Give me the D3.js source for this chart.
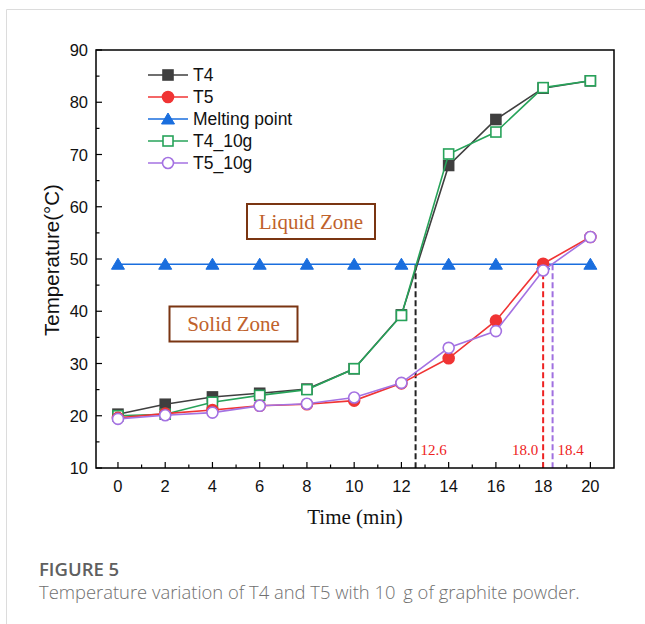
<!doctype html>
<html>
<head>
<meta charset="utf-8">
<script src="https://d3js.org/d3.v7.min.js"></script>
<style>
  body { margin: 0; background: #fff; }
  svg { display: block; }
</style>
</head>
<body>
<svg width="645" height="624"></svg>
<script>
// data
var times = [0, 2, 4, 6, 8, 10, 12, 14, 16, 18, 20];
var t4 = [20.3, 22.2, 23.6, 24.3, 25.1, 29.0, 39.3, 67.9, 76.7, 82.7, 84.1];
var t5 = [19.6, 20.4, 21.1, 21.9, 22.2, 22.9, 26.2, 31.0, 38.2, 49.1, 54.2];
var melting = [49, 49, 49, 49, 49, 49, 49, 49, 49, 49, 49];
var t4_10g = [20.0, 20.3, 22.6, 23.9, 25.0, 29.0, 39.2, 70.1, 74.3, 82.8, 84.1];
var t5_10g = [19.4, 20.1, 20.6, 21.9, 22.3, 23.5, 26.3, 33.0, 36.2, 47.8, 54.2];
var xTicks = [0, 2, 4, 6, 8, 10, 12, 14, 16, 18, 20];
var yTicks = [10, 20, 30, 40, 50, 60, 70, 80, 90];
var crossings = [
  {t: 12.6, color: "#222", label: "12.6", side: "right"},
  {t: 18.0, color: "#ee2222", label: "18.0", side: "left"},
  {t: 18.4, color: "#a070e0", label: "18.4", side: "right"}
];

var series = [
  {name: "T4", values: t4, color: "#3f3f3f", shape: "square", filled: true},
  {name: "T5", values: t5, color: "#f03434", shape: "circle", filled: true},
  {name: "Melting point", values: melting, color: "#1a6ede", shape: "triangle", filled: true},
  {name: "T4_10g", values: t4_10g, color: "#27a35a", shape: "square", filled: false},
  {name: "T5_10g", values: t5_10g, color: "#a472e2", shape: "circle", filled: false}
];

(function() {
var svg = d3.select("svg");

// card outline
svg.append("path")
  .attr("d", "M6.5,624 L6.5,9.5 L645,9.5")
  .attr("fill", "none")
  .attr("stroke", "#dcdcdc")
  .attr("stroke-width", 1);

var pl = 96, pr = 614, pt = 50, pb = 468;

var x = d3.scaleLinear().domain([-0.93, 21.0]).range([pl, pr]);
var y = d3.scaleLinear().domain([10, 90]).range([pb, pt]);

// ticks (inward, with minors)
var g = svg.append("g");
d3.range(0, 21, 1).forEach(function(v) {
  var len = (v % 2 === 0) ? 6 : 3.5;
  g.append("line").attr("x1", x(v)).attr("x2", x(v))
    .attr("y1", pb).attr("y2", pb - len)
    .attr("stroke", "#000").attr("stroke-width", 1.2);
});
d3.range(10, 91, 5).forEach(function(v) {
  var len = (v % 10 === 0) ? 6 : 3.5;
  g.append("line").attr("x1", pl).attr("x2", pl + len)
    .attr("y1", y(v)).attr("y2", y(v))
    .attr("stroke", "#000").attr("stroke-width", 1.2);
});

// tick labels
g.selectAll(".xl").data(xTicks).enter().append("text")
  .attr("x", function(d) { return x(d); })
  .attr("y", 492)
  .attr("text-anchor", "middle")
  .attr("font-family", "Liberation Sans, Arial, sans-serif")
  .attr("font-size", 16.5)
  .attr("fill", "#111")
  .text(function(d) { return d; });

g.selectAll(".yl").data(yTicks).enter().append("text")
  .attr("x", 88)
  .attr("y", function(d) { return y(d) + 6; })
  .attr("text-anchor", "end")
  .attr("font-family", "Liberation Sans, Arial, sans-serif")
  .attr("font-size", 16.5)
  .attr("fill", "#111")
  .text(function(d) { return d; });

// axis titles
svg.append("text")
  .attr("transform", "translate(59,260) rotate(-90)")
  .attr("text-anchor", "middle")
  .attr("font-family", "Liberation Sans, Arial, sans-serif")
  .attr("font-size", 20.5)
  .attr("fill", "#111")
  .text("Temperature(\u00B0C)");

svg.append("text")
  .attr("x", 355).attr("y", 524)
  .attr("text-anchor", "middle")
  .attr("font-family", "Liberation Serif, Times New Roman, serif")
  .attr("font-size", 21)
  .attr("fill", "#111")
  .text("Time (min)");

// zone boxes
function zoneBox(cx, cy, w, h, label) {
  svg.append("rect")
    .attr("x", cx - w / 2).attr("y", cy - h / 2)
    .attr("width", w).attr("height", h)
    .attr("fill", "#fff")
    .attr("stroke", "#7a3512")
    .attr("stroke-width", 2);
  svg.append("text")
    .attr("x", cx).attr("y", cy + 7)
    .attr("text-anchor", "middle")
    .attr("font-family", "Liberation Serif, Times New Roman, serif")
    .attr("font-size", 21)
    .attr("fill", "#c0622c")
    .text(label);
}
zoneBox(311, 221.5, 128, 35, "Liquid Zone");
zoneBox(233.5, 324, 128, 35, "Solid Zone");

// crossing lines
crossings.forEach(function(c) {
  svg.append("line")
    .attr("x1", x(c.t)).attr("x2", x(c.t))
    .attr("y1", y(49)).attr("y2", pb)
    .attr("stroke", c.color)
    .attr("stroke-width", 2)
    .attr("stroke-dasharray", "6,3");
  svg.append("text")
    .attr("x", c.side === "right" ? x(c.t) + 5 : x(c.t) - 5)
    .attr("y", 455)
    .attr("text-anchor", c.side === "right" ? "start" : "end")
    .attr("font-family", "Liberation Serif, Times New Roman, serif")
    .attr("font-size", 15)
    .attr("fill", "#ee2222")
    .text(c.label);
});

// lines and markers
var line = d3.line()
  .x(function(d, i) { return x(times[i]); })
  .y(function(d) { return y(d); });

function drawMarker(sel, s, px, py) {
  var fill = s.filled ? s.color : "#fff";
  if (s.shape === "square") {
    sel.append("rect").attr("x", px - 5).attr("y", py - 5)
      .attr("width", 10).attr("height", 10)
      .attr("fill", fill).attr("stroke", s.color).attr("stroke-width", 1.6);
  } else if (s.shape === "circle") {
    sel.append("circle").attr("cx", px).attr("cy", py).attr("r", 5.5)
      .attr("fill", fill).attr("stroke", s.color).attr("stroke-width", 1.6);
  } else {
    sel.append("path")
      .attr("d", "M" + px + "," + (py - 6) + " L" + (px + 6.5) + "," + (py + 5) + " L" + (px - 6.5) + "," + (py + 5) + "Z")
      .attr("fill", fill).attr("stroke", s.color).attr("stroke-width", 1);
  }
}

var drawOrder = [2, 0, 3, 1, 4];
drawOrder.forEach(function(k) {
  var s = series[k];
  svg.append("path")
    .datum(s.values)
    .attr("d", line)
    .attr("fill", "none")
    .attr("stroke", s.color)
    .attr("stroke-width", 1.6);
  var mg = svg.append("g");
  s.values.forEach(function(v, i) {
    drawMarker(mg, s, x(times[i]), y(v));
  });
});

// legend
var lg = svg.append("g");
series.forEach(function(s, i) {
  var ly = 75 + i * 22;
  lg.append("line")
    .attr("x1", 148).attr("x2", 188)
    .attr("y1", ly).attr("y2", ly)
    .attr("stroke", s.color).attr("stroke-width", 1.6);
  drawMarker(lg, s, 168, ly);
  lg.append("text")
    .attr("x", 193).attr("y", ly + 6)
    .attr("font-family", "Liberation Sans, Arial, sans-serif")
    .attr("font-size", 17.5)
    .attr("fill", "#111")
    .text(s.name);
});

// frame
svg.append("rect")
  .attr("x", pl).attr("y", pt)
  .attr("width", pr - pl).attr("height", pb - pt)
  .attr("fill", "none")
  .attr("stroke", "#000")
  .attr("stroke-width", 1.5);

// caption
svg.append("text")
  .attr("x", 39).attr("y", 576)
  .attr("font-family", "Open Sans, Noto Sans, sans-serif")
  .attr("font-size", 18.5)
  .attr("font-weight", 600)
  .attr("fill", "#606060")
  .text("FIGURE 5");
svg.append("text")
  .attr("x", 39).attr("y", 599)
  .attr("font-family", "Open Sans, Noto Sans, sans-serif")
  .attr("font-size", 18.4)
  .attr("font-weight", 300)
  .attr("fill", "#707070")
  .text("Temperature variation of T4 and T5 with 10\u2009 g of graphite powder.");
})();
</script>
</body>
</html>
